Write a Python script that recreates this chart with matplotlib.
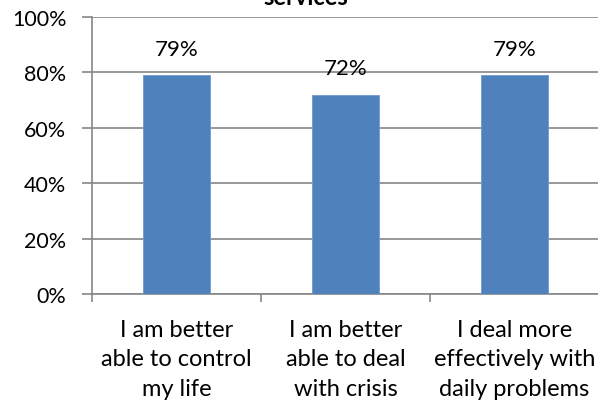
import matplotlib
matplotlib.use("Agg")
import matplotlib.pyplot as plt
from matplotlib.ticker import FixedLocator, PercentFormatter

categories = [
    "I am better\nable to control\nmy life",
    "I am better\nable to deal\nwith crisis",
    "I deal more\neffectively with\ndaily problems",
]
values = [79, 72, 79]
y_ticks = [0, 20, 40, 60, 80, 100]
title = "services"

plt.rcParams["font.family"] = ["Lato", "DejaVu Sans"]
FS = 17
GRID = "#868686"
BAR = "#4F81BD"

fig = plt.figure(figsize=(5.98, 4.06), dpi=100)
ax = fig.add_axes([92 / 598, 1 - 295 / 406, 507 / 598, 277 / 406])

x = list(range(len(categories)))
bars = ax.bar(x, values, width=0.4, color=BAR, edgecolor="#6F99CF", linewidth=0.6, zorder=3)

for xi, v in zip(x, values):
    ax.annotate(f"{v}%", (xi, v), xytext=(0, 12), textcoords="offset points",
                ha="center", va="bottom", fontsize=16, color="black", zorder=4)

ax.set_xlim(-0.5, len(categories) - 0.5)
ax.set_ylim(0, 100)
ax.set_yticks(y_ticks)
ax.yaxis.set_major_formatter(PercentFormatter(decimals=0))
ax.yaxis.grid(True, color=GRID, linewidth=1.2, zorder=0)

ax.set_xticks(x)
ax.set_xticklabels(categories, fontsize=FS, linespacing=1.5)
ax.xaxis.set_minor_locator(FixedLocator([i - 0.5 for i in range(len(categories) + 1)]))
ax.tick_params(axis="x", which="major", length=0, pad=18)
ax.tick_params(axis="x", which="minor", length=6, width=1.2, color=GRID, direction="out")
ax.tick_params(axis="y", length=7.5, width=1.2, color=GRID, direction="out", labelsize=15.5, pad=11)

for side in ("top", "right"):
    ax.spines[side].set_visible(False)
for side in ("left", "bottom"):
    ax.spines[side].set_color(GRID)
    ax.spines[side].set_linewidth(1.2)

fig.text(306 / 598, 1 - 5 / 406, title, ha="center", va="baseline",
         fontsize=FS, fontweight="bold")

fig.savefig("out.png", dpi=100)
